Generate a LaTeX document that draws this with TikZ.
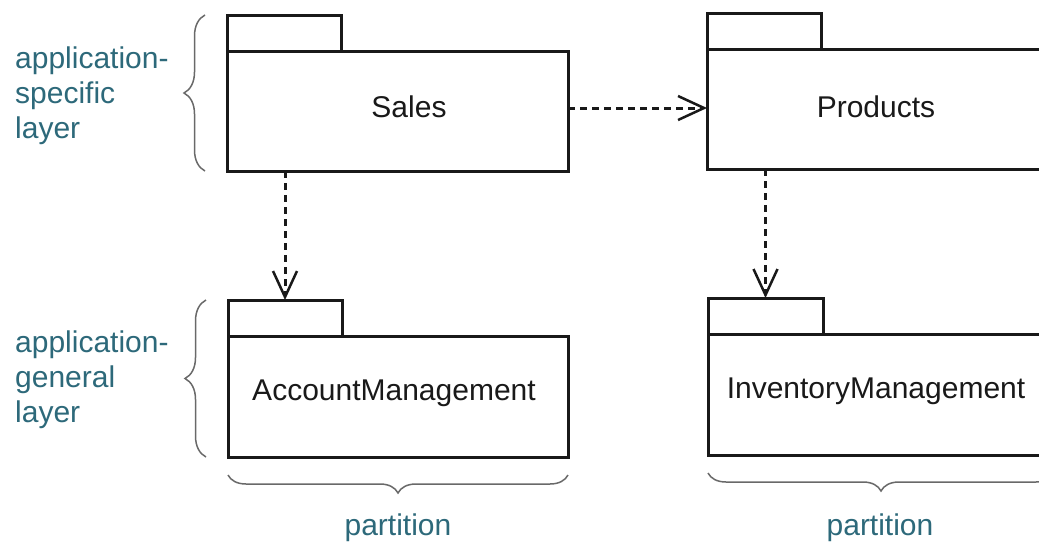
\documentclass[tikz,border=0pt]{standalone}
\usepackage{fontspec}
\setmainfont{Liberation Sans}
\usetikzlibrary{arrows.meta,decorations.pathreplacing}
\definecolor{layerteal}{RGB}{45,105,122}
\definecolor{inkline}{RGB}{25,25,25}
\definecolor{bracegray}{RGB}{105,105,105}
\tikzset{
  pkgbody/.style={draw=inkline, line width=3pt, rectangle, inner sep=0pt, outer sep=0pt, anchor=north west},
  pkgtab/.style={draw=inkline, line width=3pt, rectangle, inner sep=0pt, outer sep=0pt, anchor=south west,
                 minimum width=114pt, minimum height=36pt},
  pkgname/.style={text=inkline, font=\fontsize{30}{36}\selectfont, inner sep=0pt},
  layertext/.style={text=layerteal, font=\fontsize{30}{35}\selectfont, align=left, inner sep=0pt, anchor=north west},
  grouplabel/.style={text=layerteal, font=\fontsize{30}{35}\selectfont, inner sep=0pt, anchor=base},
  dep/.style={draw=inkline, line width=3pt, dash pattern=on 7pt off 5pt,
              -{Straight Barb[length=26pt,width=24pt,line width=2.5pt]}},
  grouping/.style={draw=bracegray, line width=1.5pt, decorate},
}
\begin{document}
\begin{tikzpicture}[x=1pt,y=-1pt]
  \useasboundingbox (0,0) rectangle (1039,541);
  \fill[white] (0,0) rectangle (1039,541);
  \clip (0,0) rectangle (1039,541);

  % packages: body with a tab on top
  \node[pkgbody, minimum width=341pt, minimum height=120pt] (sales) at (227,51) {};
  \node[pkgtab] (salestab) at (sales.north west) {};
  \node[pkgbody, minimum width=346pt, minimum height=120pt] (products) at (707,49) {};
  \node[pkgtab] (productstab) at (products.north west) {};
  \node[pkgbody, minimum width=340pt, minimum height=121pt] (account) at (228,336) {};
  \node[pkgtab] (accounttab) at (account.north west) {};
  \node[pkgbody, minimum width=346pt, minimum height=121pt] (inventory) at (708,334) {};
  \node[pkgtab, minimum width=115pt] (inventorytab) at (inventory.north west) {};

  % package names
  \node[pkgname] (salesname) at (409,107) {Sales};
  \node[pkgname] (productsname) at (876,107) {Products};
  \node[pkgname, anchor=base] (accountname) at (394,400) {AccountManagement};
  \node[pkgname, anchor=base] (inventoryname) at (876,398) {InventoryManagement};

  % dependencies
  \coordinate (depstart) at ([yshift=3pt]sales.east);
  \draw[dep] (depstart) -- (depstart -| products.west);
  \draw[dep] (sales.south -| accounttab.north) -- (accounttab.north);
  \draw[dep] (products.south -| inventorytab.north) -- (inventorytab.north);

  % layers
  \draw[grouping, decoration={brace, amplitude=21pt}]
    ([xshift=-22pt]sales.south west) -- ([xshift=-22pt]salestab.north west);
  \draw[grouping, decoration={brace, amplitude=21pt}]
    ([xshift=-22pt]account.south west) -- ([xshift=-22pt]accounttab.north west);
  \node[layertext] (speclayer) at (15,47) {application-\\specific\\layer};
  \node[layertext] (genlayer) at (15,331) {application-\\general\\layer};

  % partitions
  \draw[grouping, decoration={brace, amplitude=18pt}]
    ([yshift=-18pt]account.south east) -- ([yshift=-18pt]account.south west);
  \draw[grouping, decoration={brace, amplitude=18pt}]
    ([yshift=-18pt]inventory.south east) -- ([yshift=-18pt]inventory.south west);
  \node[grouplabel] (leftpart) at (398,535) {partition};
  \node[grouplabel] (rightpart) at (880,535) {partition};
\end{tikzpicture}
\end{document}
